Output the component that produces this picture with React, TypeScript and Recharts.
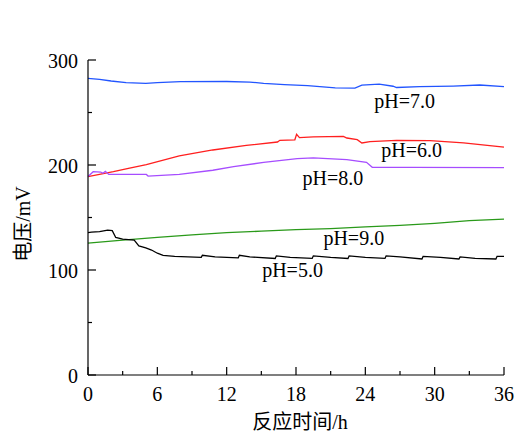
import React from 'react';
import { LineChart, Line, XAxis, YAxis, ReferenceDot } from 'recharts';

const FONT = "'Liberation Serif', 'Times New Roman', 'Noto Sans CJK SC', serif";

// hours / voltage (mV)
const ph7Hours = [0, 1, 2, 3.3, 5, 6, 8, 12, 14, 15.2, 17, 19, 21.4, 23.1, 23.7, 25.2, 26.4, 26.7, 28.7, 31.6, 33.9, 36];
const ph7Values = [282.5, 281.5, 280, 278.5, 277.8, 278.5, 279.4, 279.5, 279, 277.8, 276.5, 275.5, 273.5, 273.3, 276, 277.1, 275, 273.8, 274.6, 275.2, 276.2, 274.6];

const ph6Hours = [0, 2.2, 3.6, 5.05, 7.9, 10.8, 13.7, 16.4, 16.6, 17.9, 18.05, 18.3, 19.5, 22.1, 22.4, 23.3, 23.7, 24.4, 26.7, 29.6, 32.5, 36];
const ph6Values = [189, 193.6, 197, 200.3, 208.6, 214.3, 218.7, 221.9, 223.5, 224, 229.2, 226, 226.7, 227.3, 225.7, 224.1, 221, 222.2, 223.5, 223.2, 221, 217.1];

const ph8Hours = [0, 0.45, 1.1, 1.3, 1.5, 1.8, 5.05, 5.2, 7.9, 10.8, 12.6, 15.2, 18.1, 19.5, 22.4, 24.1, 24.6, 28, 36];
const ph8Values = [189, 193.6, 193.3, 192.1, 194, 191, 191, 189.5, 191, 195, 198.4, 202.5, 206, 206.7, 205.1, 202.5, 197.8, 197.8, 197.5];

const ph9Hours = [0, 3, 6, 9, 12, 15, 18, 21, 24, 27, 30, 33, 36];
const ph9Values = [125.5, 128.5, 131, 133.5, 135.5, 137, 138.5, 139.5, 141, 142.5, 144.5, 147, 148.5];

const ph5Hours = [0, 0.3, 1, 1.7, 2.1, 2.4, 3, 4, 4.4, 5, 5.5, 6, 6.5, 7.5, 9.8, 9.9, 11, 13, 13.1, 14, 16.2, 16.3, 17.5, 19.4, 19.5, 21, 22.5, 22.6, 24, 25.7, 25.8, 27, 28.9, 29, 30.5, 32.1, 32.2, 33.5, 35.3, 35.4, 36];
const ph5Values = [135.5, 136, 136.5, 138, 137.5, 131, 129.5, 128.5, 123, 121, 119, 116, 114, 113, 112, 114, 112.5, 111.5, 114, 112.5, 111, 113.5, 112, 111, 113.5, 112, 111, 113.5, 112, 111, 113.5, 112.5, 110.5, 113, 112, 110.5, 112.5, 111, 110.5, 113, 113];

const xTicks = [0, 3, 6, 9, 12, 15, 18, 21, 24, 27, 30, 33, 36];
const yTicks = [0, 50, 100, 150, 200, 250, 300];

const seriesNames = ['pH=7.0', 'pH=6.0', 'pH=8.0', 'pH=9.0', 'pH=5.0'];
const seriesColors = ['#2255ff', '#ff1f1f', '#a64dff', '#2a9a1a', '#000000'];
// label anchor (hour, mV) for the text baseline centre
const labelHours = [27.4, 28, 21.2, 23, 17.7];
const labelValues = [254.6, 207.9, 181, 123.8, 93.6];

const toPoints = (hours: number[], values: number[]) => hours.map((h, i) => ({ h, v: values[i] }));

const allSeries = [
  toPoints(ph7Hours, ph7Values),
  toPoints(ph6Hours, ph6Values),
  toPoints(ph8Hours, ph8Values),
  toPoints(ph9Hours, ph9Values),
  toPoints(ph5Hours, ph5Values),
];

const XTick = (props: any) => {
  const { x, y, payload } = props;
  const major = payload.value % 6 === 0;
  return (
    <g>
      <line x1={x} y1={y} x2={x} y2={y - (major ? 8 : 4)} stroke="#000" strokeWidth={1.2} />
      {major && (
        <text x={x} y={y + 26} textAnchor="middle" fontSize={20} fontFamily={FONT} fill="#000">
          {payload.value}
        </text>
      )}
    </g>
  );
};

const YTick = (props: any) => {
  const { x, y, payload } = props;
  const major = payload.value % 100 === 0;
  return (
    <g>
      <line x1={x} y1={y} x2={x + (major ? 8 : 4)} y2={y} stroke="#000" strokeWidth={1.2} />
      {major && (
        <text x={x - 10} y={y + 8} textAnchor="end" fontSize={20} fontFamily={FONT} fill="#000">
          {payload.value}
        </text>
      )}
    </g>
  );
};

export default function App() {
  return (
    <div style={{ position: 'absolute', left: 0, top: 0, width: 530, height: 433, background: '#fff' }}>
      <LineChart width={530} height={433} margin={{ top: 60, right: 26, left: 0, bottom: 0 }}>
        <XAxis
          dataKey="h"
          type="number"
          domain={[0, 36]}
          ticks={xTicks}
          interval={0}
          height={58}
          tickSize={0}
          tickMargin={0}
          tickLine={false}
          tick={<XTick />}
          axisLine={{ stroke: '#000', strokeWidth: 1.2 }}
          allowDuplicatedCategory={false}
          label={{
            content: () => (
              <text x={300} y={429} textAnchor="middle" fontSize={20} fontFamily={FONT} fill="#000">
                反应时间/h
              </text>
            ),
          }}
        />
        <YAxis
          dataKey="v"
          type="number"
          domain={[0, 300]}
          ticks={yTicks}
          interval={0}
          width={88}
          tickSize={0}
          tickMargin={0}
          tickLine={false}
          tick={<YTick />}
          axisLine={{ stroke: '#000', strokeWidth: 1.2 }}
          label={{
            content: () => (
              <text
                x={23}
                y={224}
                transform="rotate(-90, 23, 224)"
                textAnchor="middle"
                dominantBaseline="central"
                fontSize={20}
                fontFamily={FONT}
                fill="#000"
              >
                电压/mV
              </text>
            ),
          }}
        />
        {allSeries.map((data, i) => (
          <Line
            key={seriesNames[i]}
            data={data}
            dataKey="v"
            type="linear"
            stroke={seriesColors[i]}
            strokeWidth={1.3}
            dot={false}
            activeDot={false}
            isAnimationActive={false}
          />
        ))}
        {seriesNames.map((name, i) => (
          <ReferenceDot
            key={'lbl' + name}
            x={labelHours[i]}
            y={labelValues[i]}
            r={0}
            shape={(p: any) => (
              <text x={p.cx} y={p.cy} textAnchor="middle" fontSize={20} fontFamily={FONT} fill="#000">
                {name}
              </text>
            )}
          />
        ))}
      </LineChart>
    </div>
  );
}
